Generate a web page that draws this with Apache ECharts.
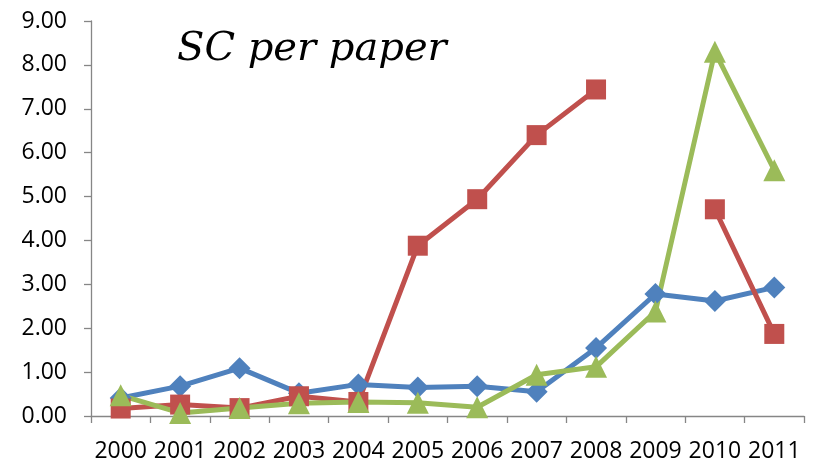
<!DOCTYPE html>
<html>
<head>
<meta charset="utf-8">
<script src="https://cdn.jsdelivr.net/npm/echarts@6/dist/echarts.min.js"></script>
<style>
  html, body { margin: 0; padding: 0; background: #fff; }
  #chart { width: 813px; height: 460px; }
</style>
</head>
<body>
<div id="chart"></div>
<script>
// Years on the category axis
const years = ['2000', '2001', '2002', '2003', '2004', '2005', '2006', '2007', '2008', '2009', '2010', '2011'];

// SC per paper, three series (null = no value that year)
const blueSeries = [0.41, 0.68, 1.09, 0.52, 0.72, 0.65, 0.68, 0.55, 1.55, 2.78, 2.62, 2.93];
const redSeries = [0.17, 0.26, 0.18, 0.45, 0.32, 3.88, 4.94, 6.40, 7.44, null, 4.71, 1.87];
const greenSeries = [0.47, 0.07, 0.18, 0.29, 0.32, 0.30, 0.20, 0.94, 1.12, 2.38, 8.30, 5.60];

// Value axis ticks
const yTicks = { min: 0, max: 9, interval: 1 };

const axisGrey = '#868686';
const labelFont = { fontFamily: 'Open Sans', fontSize: 23, color: '#000' };

const chart = echarts.init(document.getElementById('chart'), null, { renderer: 'canvas' });

function lineSeries(name, data, color, symbol, size) {
  return {
    name: name,
    type: 'line',
    data: data,
    symbol: symbol,
    symbolSize: size,
    connectNulls: false,
    lineStyle: { color: color, width: 5 },
    itemStyle: { color: color, borderWidth: 0 },
    emphasis: { disabled: true },
    animation: false
  };
}

chart.setOption({
  backgroundColor: '#fff',
  animation: false,
  title: {
    text: 'SC per paper',
    left: 172,
    top: 25,
    textStyle: {
      fontFamily: 'DejaVu Serif',
      fontStyle: 'italic',
      fontWeight: 'normal',
      fontSize: 40,
      color: '#000'
    }
  },
  grid: { left: 91, right: 9, top: 21, bottom: 44, containLabel: false, outerBoundsMode: 'none' },
  xAxis: {
    type: 'category',
    data: years,
    boundaryGap: true,
    axisLine: { lineStyle: { color: axisGrey, width: 1.3 } },
    axisTick: { show: true, length: 7, inside: false, alignWithLabel: false, lineStyle: { color: axisGrey, width: 1.3 } },
    axisLabel: Object.assign({ margin: 24, interval: 0, hideOverlap: false }, labelFont),
    splitLine: { show: false }
  },
  yAxis: {
    type: 'value',
    min: yTicks.min,
    max: yTicks.max,
    interval: yTicks.interval,
    axisLine: { show: true, lineStyle: { color: axisGrey, width: 1.3 } },
    axisTick: { show: true, length: 7, lineStyle: { color: axisGrey, width: 1.3 } },
    axisLabel: Object.assign({ margin: 24, formatter: v => v.toFixed(2) }, labelFont),
    splitLine: { show: false }
  },
  series: [
    lineSeries('blue', blueSeries, '#4F81BD', 'diamond', 22),
    lineSeries('red', redSeries, '#C0504D', 'rect', 20),
    lineSeries('green', greenSeries, '#9BBB59', 'triangle', 22)
  ]
});
</script>
</body>
</html>
